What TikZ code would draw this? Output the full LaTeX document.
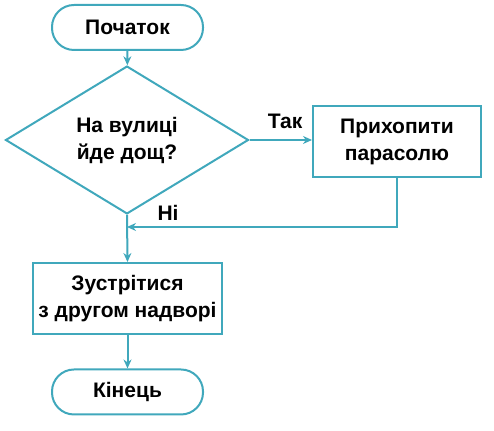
\documentclass[tikz,border=0pt]{standalone}
\usepackage{fontspec}
\setmainfont{Liberation Sans}
\usetikzlibrary{shapes.geometric,arrows.meta}
\definecolor{flowteal}{RGB}{64,168,188}
\tikzset{
    block/.style={draw=flowteal, line width=1pt, fill=white, align=center,
        font=\bfseries\fontsize{10.5}{13.5}\selectfont, inner sep=0pt},
    terminal/.style={block, rounded corners=11pt, minimum width=75.5pt, minimum height=22.5pt},
    process/.style={block, minimum height=35.5pt},
    decision/.style={block, diamond, minimum width=121.5pt, minimum height=52pt},
    flow/.style={draw=flowteal, line width=1pt, -{Stealth[length=4.5pt,width=4pt]}},
    answer/.style={font=\bfseries\fontsize{10.5}{13.5}\selectfont}
}
\begin{document}
\begin{tikzpicture}[x=0.5pt, y=-0.5pt]
    \useasboundingbox (0,0) rectangle (494,431);
    % blocks
    \node[terminal] (start) at (127.5,27.5) {Початок};
    \node[decision] (cond) at (127,140) {На вулиці\\йде дощ?};
    \node[process, minimum width=84pt] (take) at (397,142) {Прихопити\\парасолю};
    \node[process, minimum width=94.5pt] (meet) at (127.5,298.5) {Зустрітися\\з другом надворі};
    \node[terminal] (stop) at (127.5,392) {Кінець};
    \coordinate (join) at (127,227);
    % connectors
    \draw[flow] (start) -- (cond);
    \draw[flow] (cond.east) -- (cond.east -| take.west);
    \draw[flow] (take.south) |- (join);
    \draw[flow] (cond.south) -- (meet.north);
    \draw[flow] (meet) -- (stop);
    % answers
    \node[answer] (yes) at (285,121) {Так};
    \node[answer] (no) at (168,213) {Ні};
\end{tikzpicture}
\end{document}
